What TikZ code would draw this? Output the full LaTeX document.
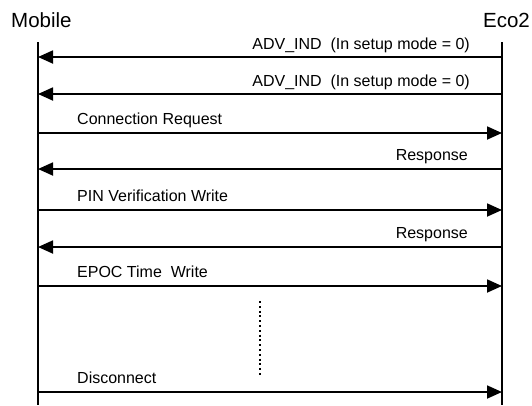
\documentclass[tikz,border=0pt]{standalone}
\usepackage{fontspec}
\setmainfont{Liberation Sans}
\usetikzlibrary{arrows.meta}

\begin{document}
\begin{tikzpicture}[
x=1pt,y=-1pt,
lifeline/.style={
draw,
line width=1.8pt
},
msg/.style={
draw,
line width=1.8pt,
-{Triangle[length=15pt,width=13pt]}
},
title/.style={
font=\fontsize{20.5}{24}\selectfont,
inner sep=0pt
},
lbl/.style={
font=\fontsize{16}{19}\selectfont,
inner sep=0pt
}
]
\useasboundingbox (0,0) rectangle (532,405);

\node[title, anchor=base west] (mobile) at (11,27.7) {Mobile};
\node[title, anchor=base east] (eco) at (530,27.7) {Eco2};

\coordinate (mtop) at (38,42);
\coordinate (mbot) at (38,405);
\coordinate (etop) at (502,42);
\coordinate (ebot) at (502,405);
\draw[lifeline] (mtop) -- (mbot);
\draw[lifeline] (etop) -- (ebot);

% message rows
\foreach \i/\y in {1/57,2/94,3/133,4/169,5/210,6/247,7/286,8/392}{
\coordinate (m\i) at (38,\y);
\coordinate (e\i) at (502,\y);
}

\draw[msg] (e1) -- (m1);
\node[lbl, anchor=base east] (adv1) at (470,49) {ADV\_IND~ (In setup mode = 0)};
\draw[msg] (e2) -- (m2);
\node[lbl, anchor=base east] (adv2) at (470,86) {ADV\_IND~ (In setup mode = 0)};
\draw[msg] (m3) -- (e3);
\node[lbl, anchor=base west] (conn) at (77,124) {Connection Request};
\draw[msg] (e4) -- (m4);
\node[lbl, anchor=base east] (resp1) at (468,160) {Response};
\draw[msg] (m5) -- (e5);
\node[lbl, anchor=base west] (pin) at (77,201) {PIN Verification Write};
\draw[msg] (e6) -- (m6);
\node[lbl, anchor=base east] (resp2) at (468,238) {Response};
\draw[msg] (m7) -- (e7);
\node[lbl, anchor=base west] (epoc) at (77,277) {EPOC Time~~Write};

% more messages
\coordinate (dtop) at (260,301);
\coordinate (dbot) at (260,377);
\draw[line width=1.8pt, dash pattern=on 2pt off 2.8pt] (dtop) -- (dbot);

\draw[msg] (m8) -- (e8);
\node[lbl, anchor=base west] (disc) at (77,383) {Disconnect};

\end{tikzpicture}
\end{document}
